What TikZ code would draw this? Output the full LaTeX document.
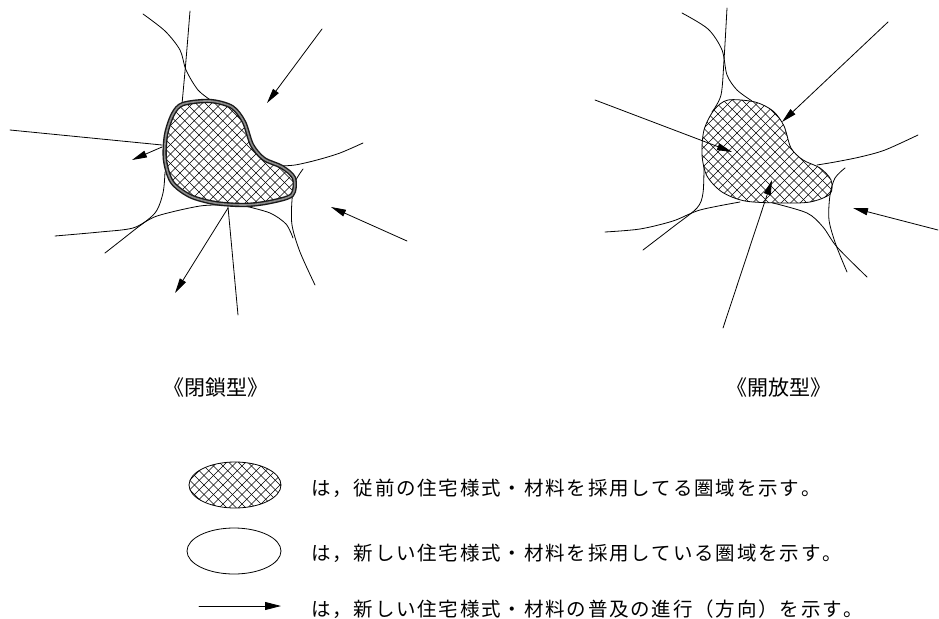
\documentclass[tikz,border=0pt]{standalone}
\usepackage{fontspec}
\newfontfamily\jp{Noto Sans CJK JP}
\usetikzlibrary{arrows.meta}
\def\jspend{JSPEND}
\def\jspaced#1{\jsploop#1\jspend}
\def\jsploop#1{\ifx#1\jspend\else\makebox[21.3pt][l]{#1}\expandafter\jsploop\fi}
\begin{document}
\begin{tikzpicture}[x=1pt,y=-1pt,
  edgeline/.style={line width=0.8pt, line cap=round},
  arr/.style={edgeline, -{Triangle[length=15pt,width=7pt]}},
  hatchline/.style={line width=0.6pt},
  title/.style={font=\jp\fontsize{21}{21}\selectfont, inner sep=0pt},
  legendtext/.style={font=\jp\fontsize{19.5}{19.5}\selectfont, inner sep=0pt, anchor=west},
]
\useasboundingbox (0,0) rectangle (939,618);

% ---------- left panel (closed type) ----------
\def\blobL{(183,104) (210,101) (232,107) (244,122) (252,145) (264,159) (282,167) (294,178) (292,195) (270,202) (245,205) (215,203) (190,196) (172,182) (165,160) (166,135) (173,114)}
\begin{scope}
  \clip plot[smooth cycle] coordinates {\blobL};
  \foreach \k in {0,...,32} {
    \draw[hatchline] ({48+9.5*\k},98) -- ({160+9.5*\k},210);
    \draw[hatchline] ({160+9.5*\k},98) -- ({48+9.5*\k},210);
  }
\end{scope}
\draw[edgeline] plot[smooth] coordinates {(143,14) (165,31) (180,50) (186,70) (198,90) (212,101)};
\draw[edgeline] plot[smooth] coordinates {(190,11) (186,60) (182,104)};
\draw[edgeline] (10,130) -- (162,145);
\draw[edgeline] plot[smooth] coordinates {(165,172) (163,193) (155,213) (133,231) (105,253)};
\draw[edgeline] plot[smooth] coordinates {(55,236) (100,232) (133,228) (157,216) (200,206) (228,205)};
\draw[edgeline] (228,207) -- (238,315);
\draw[edgeline] plot[smooth] coordinates {(363,143) (340,153) (317,160) (295,165) (278,166)};
\draw[edgeline] plot[smooth] coordinates {(303,169) (295,182) (292,200) (292,225) (300,252) (315,285)};
\draw[edgeline] plot[smooth] coordinates {(245,206) (270,213) (286,224) (293,238)};
\draw[line width=4.4pt, black!90] plot[smooth cycle] coordinates {\blobL};
\draw[line width=1.6pt, black!45] plot[smooth cycle] coordinates {\blobL};
\draw[arr] (162,147) -- (132,160);
\draw[arr] (228,208) -- (175,293);
\draw[arr] (322,29) -- (267,103);
\draw[arr] (407,241) -- (331,207);
\node[title] (closed) at (216,388) {\makebox[10.5pt][r]{《}閉鎖型\makebox[10.5pt][l]{》}};

% ---------- right panel (open type) ----------
\def\blobR{(728,100) (755,102) (773,111) (784,126) (791,148) (803,160) (820,168) (831,180) (830,194) (810,202) (780,203) (745,201) (722,192) (707,176) (702,155) (704,130) (714,110)}
\begin{scope}
  \clip plot[smooth cycle] coordinates {\blobR};
  \foreach \k in {0,...,32} {
    \draw[hatchline] ({586+9.5*\k},96) -- ({698+9.5*\k},208);
    \draw[hatchline] ({698+9.5*\k},96) -- ({586+9.5*\k},208);
  }
\end{scope}
\draw[edgeline] plot[smooth cycle] coordinates {\blobR};
\draw[edgeline] plot[smooth] coordinates {(682,13) (708,29) (722,50) (727,75) (737,90) (752,101)};
\draw[edgeline] plot[smooth] coordinates {(727,8) (724,60) (721,95) (712,112)};
\draw[edgeline] plot[smooth] coordinates {(704,165) (703,193) (697,208) (673,227) (643,250)};
\draw[edgeline] plot[smooth] coordinates {(605,232) (640,229) (673,221) (700,210) (740,202)};
\draw[edgeline] plot[smooth] coordinates {(918,135) (885,150) (860,157) (835,162) (817,165)};
\draw[edgeline] plot[smooth] coordinates {(845,168) (835,178) (830,195) (829,220) (836,245) (847,272)};
\draw[edgeline] plot[smooth] coordinates {(773,203) (807,213) (823,227) (837,247) (867,277)};
\draw[arr] (595,100) -- (732,152);
\draw[arr] (723,328) -- (772,180);
\draw[arr] (888,22) -- (782,122);
\draw[arr] (938,230) -- (853,208);
\node[title] (open) at (779,388) {\makebox[10.5pt][r]{《}開放型\makebox[10.5pt][l]{》}};

% ---------- legend ----------
\begin{scope}
  \clip (235,485) ellipse [x radius=46, y radius=23];
  \foreach \k in {0,...,16} {
    \draw[hatchline] ({143+9.5*\k},462) -- ({189+9.5*\k},508);
    \draw[hatchline] ({189+9.5*\k},462) -- ({143+9.5*\k},508);
  }
\end{scope}
\draw[edgeline] (235,485) ellipse [x radius=46, y radius=23];
\draw[edgeline] (234,551) ellipse [x radius=47, y radius=23];
\coordinate (la) at (199,606);
\coordinate (lb) at (281,606);
\draw[edgeline, -{Triangle[length=16pt,width=8pt]}] (la) -- (lb);
\node[legendtext] (t1) at (311,488) {\jspaced{は，従前の住宅様式・材料を採用してる圏域を示す。}};
\node[legendtext] (t2) at (311,553) {\jspaced{は，新しい住宅様式・材料を採用している圏域を示す。}};
\node[legendtext] (t3) at (311,609) {\jspaced{は，新しい住宅様式・材料の普及の進行（方向）を示す。}};
\end{tikzpicture}
\end{document}
